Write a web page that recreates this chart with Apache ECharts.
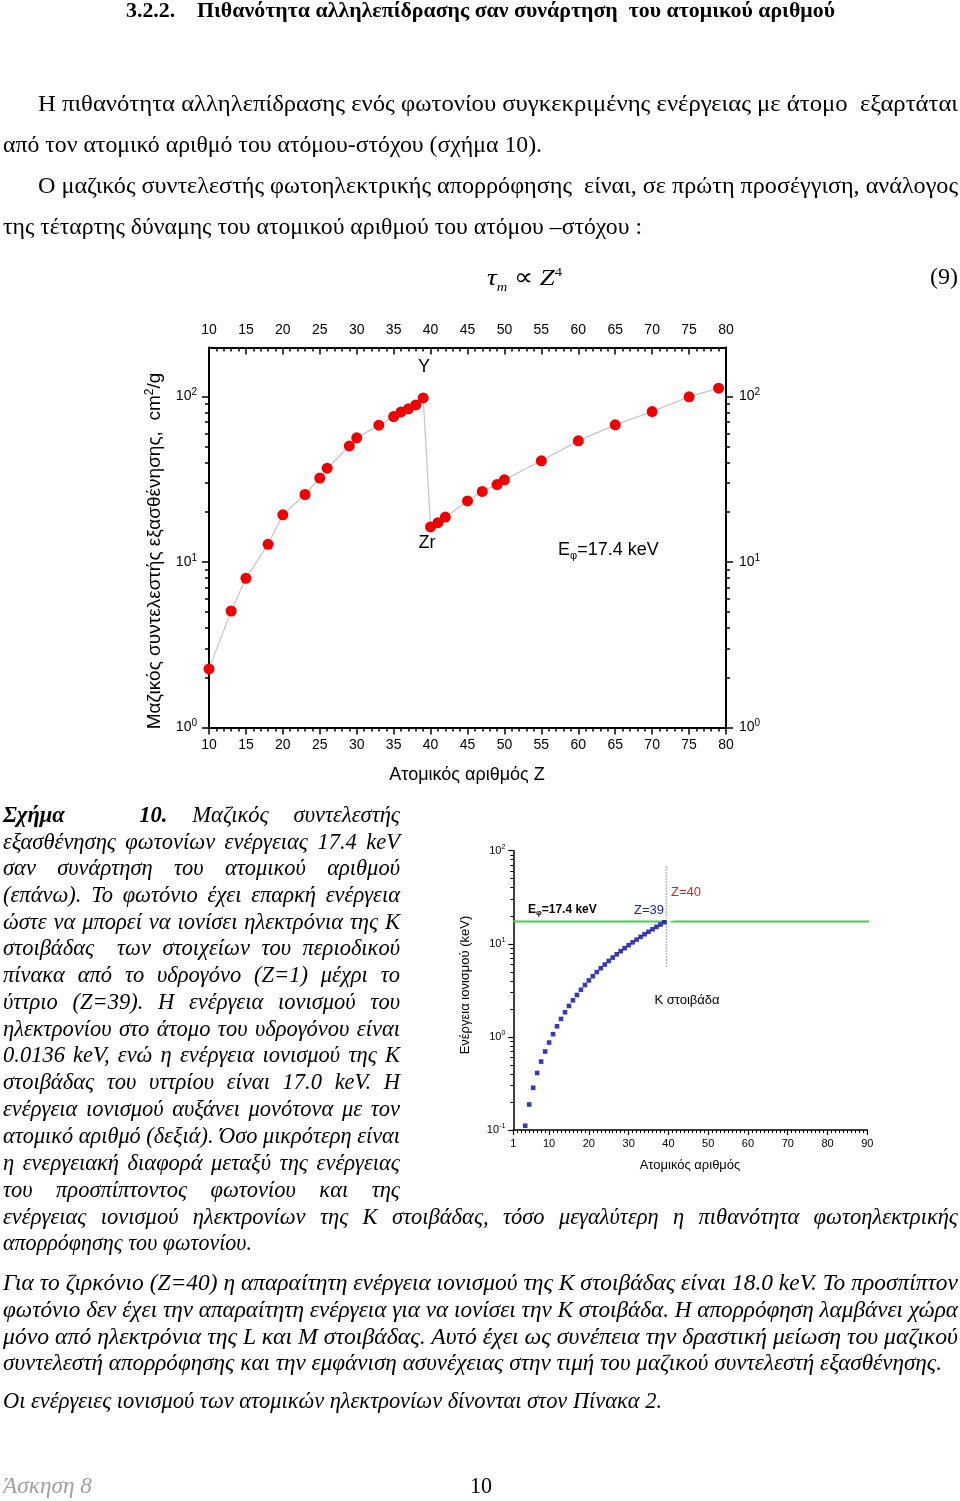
<!DOCTYPE html>
<html><head><meta charset="utf-8">
<script src="https://cdn.jsdelivr.net/npm/echarts@6/dist/echarts.min.js"></script>
<style>
html,body{margin:0;padding:0;background:#fff;}
#page{position:relative;width:960px;height:1501px;overflow:hidden;background:#fff;}
#chart{position:absolute;left:0;top:0;width:960px;height:1501px;}
.ln{position:absolute;white-space:nowrap;line-height:30px;height:30px;color:#000;}
.title{font:bold 21px "Liberation Serif",serif;}
.body{font:24px "Liberation Serif",serif;}
.cap{font:italic 22.5px "Liberation Serif",serif;}
.bot{font:italic 24px "Liberation Serif",serif;}
.foot{font:italic 23px "Liberation Serif",serif;color:#a0a0a0;}
.pg{font:23px "Liberation Serif",serif;}
</style></head>
<body><div id="page"><div id="chart"></div></div>
<script>
// ---------- data: main chart (mass attenuation coefficient at 17.4 keV) ----------
const Z_MAIN = [10,13,15,18,20,23,25,26,29,30,33,35,36,37,38,39,40,41,42,45,47,49,50,55,60,65,70,75,79];
const MU_MAIN = [2.26,5.06,7.98,12.8,19.3,25.6,32.2,36.9,50.3,56.3,67.2,75.7,80.8,84.3,89.1,98.2,16.3,17.3,18.7,23.4,26.7,29.4,31.4,40.9,54.0,67.5,81.2,99.6,112.4];
const MAIN_X_LABELS = [10,15,20,25,30,35,40,45,50,55,60,65,70,75,80];
const MAIN_Y_LABELS = [1,10,100];
const MAIN_Y_MINOR = [2,3,4,5,6,7,8,9,20,30,40,50,60,70,80,90];

// ---------- data: K-shell ionisation energy chart ----------
const Z_K = [4,5,6,7,8,9,10,11,12,13,14,15,16,17,18,19,20,21,22,23,24,25,26,27,28,29,30,31,32,33,34,35,36,37,38,39];
const E_K = [0.111,0.188,0.284,0.410,0.543,0.697,0.870,1.07,1.30,1.56,1.84,2.15,2.47,2.82,3.21,3.61,4.04,4.49,4.97,5.47,5.99,6.54,7.11,7.71,8.33,8.98,9.66,10.37,11.10,11.87,12.66,13.47,14.33,15.20,16.11,17.04];
const Z_HIGH = [40,41,42,43,44,45,46,47,48,49,50,51,52,53,54,55,56,57,58,59,60,61,62,63,64,65,66,67,68,69,70,71,72,73,74,75,76,77,78,79,80,81,82,83,84,85,86,87];
const E_HIGH = [18.0,18.99,20.0,21.04,22.12,23.22,24.35,25.51,26.71,27.94,29.2,30.49,31.81,33.17,34.56,35.99,37.44,38.93,40.44,41.99,43.57,45.18,46.83,48.52,50.24,52.0,53.79,55.62,57.49,59.39,61.33,63.31,65.35,67.42,69.53,71.68,73.87,76.11,78.4,80.73,83.1,85.53,88.0,90.53,93.11,95.73,98.4,101.1];
const E_PHOTON = 17.4;
const PHOTON_Z_RANGE = [1, 92.4];
const EDGE_Z = 39.5;
const EDGE_E_RANGE = [5.66, 68];
const K_X_LABELS = [1,10,20,30,40,50,60,70,80,90];
const K_X_MINOR = Array.from({length:90},(_,i)=>i+1);
const K_Y_LABELS = [0.1,1,10,100];
const K_Y_MINOR = [0.2,0.3,0.4,0.5,0.6,0.7,0.8,0.9,2,3,4,5,6,7,8,9,20,30,40,50,60,70,80,90];

const SANS = 'Liberation Sans';
function pow10Label(v){ return '{b|10}{s|' + Math.round(Math.log10(v)) + '}'; }
function powRich(fs, ss){ return {b:{fontSize:fs,fontFamily:SANS,color:'#000',lineHeight:fs+4}, s:{fontSize:ss,fontFamily:SANS,color:'#000',verticalAlign:'top',lineHeight:ss}}; }

const chart = echarts.init(document.getElementById('chart'), null, {renderer:'canvas'});
const blackLine = w => ({show:true, onZero:false, lineStyle:{color:'#000', width:w}});

const option = {
  animation:false,
  backgroundColor:'transparent',
  grid:[
    {left:209, top:347.5, width:517, height:380, outerBoundsMode:'none'},
    {left:513.3, top:850.7, width:354, height:279.3, outerBoundsMode:'none'}
  ],
  xAxis:[
    {gridIndex:0, type:'value', position:'bottom', min:10, max:80, interval:5,
     axisLine:blackLine(2), axisTick:{show:true, length:7, lineStyle:{color:'#000',width:1.5}},
     minorTick:{show:true, splitNumber:5, length:4, lineStyle:{color:'#000',width:1.5}},
     axisLabel:{show:true, margin:11, fontSize:14, fontFamily:SANS, color:'#000'}, splitLine:{show:false}},
    {gridIndex:0, type:'value', position:'top', min:10, max:80, interval:5,
     axisLine:blackLine(2), axisTick:{show:true, inside:true, length:7, lineStyle:{color:'#000',width:1.5}},
     minorTick:{show:true, splitNumber:5, length:4, lineStyle:{color:'#000',width:1.5}},
     axisLabel:{show:true, margin:10, fontSize:14, fontFamily:SANS, color:'#000'}, splitLine:{show:false}},
    {gridIndex:1, type:'value', position:'bottom', min:1, max:90,
     axisLine:blackLine(1.5), axisTick:{show:true, length:5, customValues:K_X_LABELS, lineStyle:{color:'#000',width:1.2}},
     axisLabel:{show:true, margin:8, fontSize:11, fontFamily:SANS, color:'#000', customValues:K_X_LABELS}, splitLine:{show:false}},
    {gridIndex:1, type:'value', position:'bottom', min:1, max:90,
     axisLine:{show:false}, axisTick:{show:true, length:3, customValues:K_X_MINOR, lineStyle:{color:'#000',width:1}},
     axisLabel:{show:false}, splitLine:{show:false}}
  ],
  yAxis:[
    {gridIndex:0, type:'log', position:'left', min:1, max:198,
     axisLine:blackLine(2), axisTick:{show:true, length:7, customValues:MAIN_Y_LABELS, lineStyle:{color:'#000',width:1.5}},
     axisLabel:{show:true, margin:12, customValues:MAIN_Y_LABELS, formatter:pow10Label, rich:powRich(14,10)}, splitLine:{show:false}},
    {gridIndex:0, type:'log', position:'right', min:1, max:198,
     axisLine:blackLine(2), axisTick:{show:true, length:7, customValues:MAIN_Y_LABELS, lineStyle:{color:'#000',width:1.5}},
     axisLabel:{show:true, margin:13, customValues:MAIN_Y_LABELS, formatter:pow10Label, rich:powRich(14,10)}, splitLine:{show:false}},
    {gridIndex:0, type:'log', position:'left', min:1, max:198,
     axisLine:{show:false}, axisTick:{show:true, length:4, customValues:MAIN_Y_MINOR, lineStyle:{color:'#000',width:1.5}},
     axisLabel:{show:false}, splitLine:{show:false}},
    {gridIndex:0, type:'log', position:'right', min:1, max:198,
     axisLine:{show:false}, axisTick:{show:true, length:4, customValues:MAIN_Y_MINOR, lineStyle:{color:'#000',width:1.5}},
     axisLabel:{show:false}, splitLine:{show:false}},
    {gridIndex:1, type:'log', position:'left', min:0.1, max:100,
     axisLine:blackLine(1.5), axisTick:{show:true, length:5, customValues:K_Y_LABELS, lineStyle:{color:'#000',width:1.2}},
     axisLabel:{show:true, margin:8, customValues:K_Y_LABELS, formatter:pow10Label, rich:powRich(11,7)}, splitLine:{show:false}},
    {gridIndex:1, type:'log', position:'left', min:0.1, max:100,
     axisLine:{show:false}, axisTick:{show:true, length:3, customValues:K_Y_MINOR, lineStyle:{color:'#000',width:1}},
     axisLabel:{show:false}, splitLine:{show:false}}
  ],
  series:[
    {type:'line', xAxisIndex:0, yAxisIndex:0, data:Z_MAIN.map((z,i)=>[z,MU_MAIN[i]]),
     lineStyle:{color:'#c4c4c4', width:1.2}, symbol:'circle', symbolSize:11,
     itemStyle:{color:'#ee0000', borderWidth:0}, z:3},
    {type:'line', xAxisIndex:2, yAxisIndex:4, data:PHOTON_Z_RANGE.map(z=>[z,E_PHOTON]), clip:false,
     showSymbol:false, symbol:'none', lineStyle:{color:'#3fd63f', width:2}, z:2},
    {type:'line', xAxisIndex:2, yAxisIndex:4, data:EDGE_E_RANGE.map(e=>[EDGE_Z,e]),
     symbol:'none', lineStyle:{color:'#a8a8a8', width:1.5, type:[1.5,1.5]}, z:2},
    {type:'scatter', xAxisIndex:2, yAxisIndex:4, data:Z_HIGH.map((z,i)=>[z,E_HIGH[i]]),
     symbol:'emptyCircle', symbolSize:3.6, itemStyle:{color:'#fff', borderColor:'#c497a5', borderWidth:1.1}, z:3},
    {type:'scatter', xAxisIndex:2, yAxisIndex:4, data:Z_K.map((z,i)=>[z,E_K[i]]),
     symbol:'rect', symbolSize:4.6, itemStyle:{color:'#0808a0'}, z:4}
  ],
  graphic:[
    {type:'text', x:155, y:551, rotation:Math.PI/2, style:{text:'Μαζικός συντελεστής εξασθένησης,  cm{s|2}/g', font:'19px Liberation Sans', fill:'#000', align:'center', verticalAlign:'middle', lineHeight:22, rich:{s:{fontSize:12, fontFamily:SANS, verticalAlign:'top', lineHeight:12}}}},
    {type:'text', x:467, y:775, style:{text:'Ατομικός αριθμός Z', font:'18px Liberation Sans', fill:'#000', align:'center', verticalAlign:'middle'}},
    {type:'text', x:424, y:367, style:{text:'Y', font:'18px Liberation Sans', fill:'#000', align:'center', verticalAlign:'middle'}},
    {type:'text', x:427, y:543, style:{text:'Zr', font:'18px Liberation Sans', fill:'#000', align:'center', verticalAlign:'middle'}},
    {type:'text', x:558, y:550, style:{text:'E{sub|φ}=17.4 keV', font:'18px Liberation Sans', fill:'#000', align:'left', verticalAlign:'middle', lineHeight:22, rich:{sub:{fontSize:11, fontFamily:SANS, verticalAlign:'bottom', lineHeight:8}}}},
    {type:'text', x:465, y:985, rotation:Math.PI/2, style:{text:'Ενέργεια ιονισμού (keV)', font:'13px Liberation Sans', fill:'#000', align:'center', verticalAlign:'middle'}},
    {type:'text', x:690, y:1165, style:{text:'Ατομικός αριθμός', font:'13px Liberation Sans', fill:'#000', align:'center', verticalAlign:'middle'}},
    {type:'text', x:528, y:910, style:{text:'E{sub|φ}=17.4 keV', font:'bold 12px Liberation Sans', fill:'#000', align:'left', verticalAlign:'middle', lineHeight:14, rich:{sub:{fontSize:8, fontFamily:SANS, fontWeight:'bold', verticalAlign:'bottom', lineHeight:6}}}},
    {type:'text', x:649, y:910, style:{text:'Z=39', font:'13px Liberation Sans', fill:'#2020b0', align:'center', verticalAlign:'middle'}},
    {type:'text', x:686, y:892, style:{text:'Z=40', font:'13px Liberation Sans', fill:'#d02020', align:'center', verticalAlign:'middle'}},
    {type:'text', x:687, y:1000, style:{text:'K στοιβάδα', font:'13px Liberation Sans', fill:'#000', align:'center', verticalAlign:'middle'}}
  ]
};
chart.setOption(option);

// ---------- document text ----------
const LINES = [
  {c:'title', x:126, w:709, y:13, m:'fit', h:'3.2.2.&nbsp;&nbsp;&nbsp; Πιθανότητα αλληλεπίδρασης σαν συνάρτηση&nbsp; του ατομικού αριθμού'},
  {c:'body', x:38, w:920, y:105, m:'fit', h:'Η πιθανότητα αλληλεπίδρασης ενός φωτονίου συγκεκριμένης ενέργειας με άτομο &nbsp;εξαρτάται'},
  {c:'body', x:3, w:539, y:146, m:'fit', h:'από τον ατομικό αριθμό του ατόμου-στόχου (σχήμα 10).'},
  {c:'body', x:38, w:920, y:187, m:'fit', h:'Ο μαζικός συντελεστής φωτοηλεκτρικής απορρόφησης &nbsp;είναι, σε πρώτη προσέγγιση, ανάλογος'},
  {c:'body', x:3, w:639, y:228, m:'fit', h:'της τέταρτης δύναμης του ατομικού αριθμού του ατόμου –στόχου :'},
  {c:'body', x:487, w:75, y:278, m:'fit', h:'<i>τ</i><sub style="font-size:13px"><i>m</i></sub> ∝ <i>Z</i><sup style="font-size:13px">4</sup>'},
  {c:'body', x:930, w:28, y:278, m:'fit', h:'(9)'},
  {c:'cap', x:3, w:397, y:817, m:'justify', h:'<b>Σχήμα</b> &nbsp; <b>10.</b> Μαζικός συντελεστής'},
  {c:'cap', x:3, w:397, y:844, m:'justify', h:'εξασθένησης φωτονίων ενέργειας 17.4 keV'},
  {c:'cap', x:3, w:397, y:870, m:'justify', h:'σαν συνάρτηση του ατομικού αριθμού'},
  {c:'cap', x:3, w:397, y:897, m:'justify', h:'(επάνω). Το φωτόνιο έχει επαρκή ενέργεια'},
  {c:'cap', x:3, w:397, y:924, m:'justify', h:'ώστε να μπορεί να ιονίσει ηλεκτρόνια της K'},
  {c:'cap', x:3, w:397, y:950, m:'justify', h:'στοιβάδας &nbsp;των στοιχείων του περιοδικού'},
  {c:'cap', x:3, w:397, y:977, m:'justify', h:'πίνακα από το υδρογόνο (Z=1) μέχρι το'},
  {c:'cap', x:3, w:397, y:1004, m:'justify', h:'ύττριο (Z=39). Η ενέργεια ιονισμού του'},
  {c:'cap', x:3, w:397, y:1031, m:'justify', h:'ηλεκτρονίου στο άτομο του υδρογόνου είναι'},
  {c:'cap', x:3, w:397, y:1057, m:'justify', h:'0.0136 keV, ενώ η ενέργεια ιονισμού της K'},
  {c:'cap', x:3, w:397, y:1084, m:'justify', h:'στοιβάδας του υττρίου είναι 17.0 keV. Η'},
  {c:'cap', x:3, w:397, y:1111, m:'justify', h:'ενέργεια ιονισμού αυξάνει μονότονα με τον'},
  {c:'cap', x:3, w:397, y:1138, m:'justify', h:'ατομικό αριθμό (δεξιά). Όσο μικρότερη είναι'},
  {c:'cap', x:3, w:397, y:1165, m:'justify', h:'η ενεργειακή διαφορά μεταξύ της ενέργειας'},
  {c:'cap', x:3, w:397, y:1192, m:'justify', h:'του προσπίπτοντος φωτονίου και της'},
  {c:'cap', x:3, w:955, y:1219, m:'justify', h:'ενέργειας ιονισμού ηλεκτρονίων της K στοιβάδας, τόσο μεγαλύτερη η πιθανότητα φωτοηλεκτρικής'},
  {c:'cap', x:3, w:249, y:1245, m:'fit', h:'απορρόφησης του φωτονίου.'},
  {c:'bot', x:3, w:955, y:1284, m:'fit', h:'Για το ζιρκόνιο (Z=40) η απαραίτητη ενέργεια ιονισμού της K στοιβάδας είναι 18.0 keV. Το προσπίπτον'},
  {c:'bot', x:3, w:955, y:1311, m:'fit', h:'φωτόνιο δεν έχει την απαραίτητη ενέργεια για να ιονίσει την K στοιβάδα. Η απορρόφηση λαμβάνει χώρα'},
  {c:'bot', x:3, w:955, y:1338, m:'fit', h:'μόνο από ηλεκτρόνια της L και M στοιβάδας. Αυτό έχει ως συνέπεια την δραστική μείωση του μαζικού'},
  {c:'bot', x:3, w:939, y:1364, m:'fit', h:'συντελεστή απορρόφησης και την εμφάνιση ασυνέχειας στην τιμή του μαζικού συντελεστή εξασθένησης.'},
  {c:'bot', x:3, w:659, y:1402, m:'fit', h:'Οι ενέργειες ιονισμού των ατομικών ηλεκτρονίων δίνονται στον Πίνακα 2.'},
  {c:'foot', x:3, w:89, y:1488, m:'fit', h:'Άσκηση 8'},
  {c:'pg', x:470, w:22, y:1488, m:'fit', h:'10'}
];
const page = document.getElementById('page');
LINES.forEach(l => {
  const d = document.createElement('div');
  d.className = 'ln ' + l.c;
  d.style.left = l.x + 'px'; d.style.top = (l.y - 15) + 'px'; d.style.width = l.w + 'px';
  const s = document.createElement('span');
  s.innerHTML = l.h; d.appendChild(s); page.appendChild(d);
  const nat = s.getBoundingClientRect().width;
  if (l.m === 'justify' && nat <= l.w - 2) {
    d.style.whiteSpace = 'normal'; d.style.textAlign = 'justify'; d.style.textAlignLast = 'justify';
  } else {
    s.style.display = 'inline-block'; s.style.transformOrigin = '0 50%';
    s.style.transform = 'scaleX(' + (l.w / nat) + ')';
  }
});
</script></body></html>
